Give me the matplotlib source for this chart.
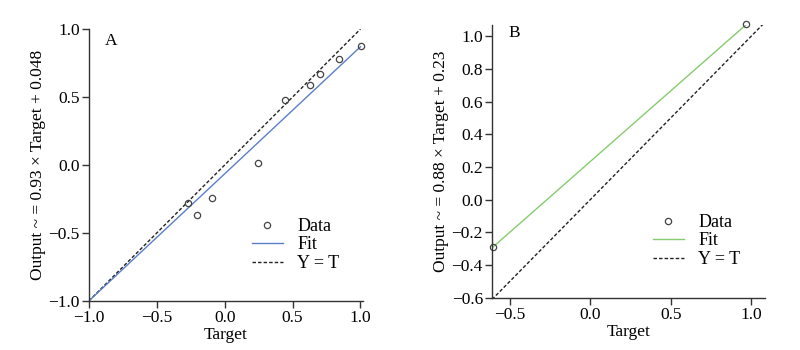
import matplotlib
matplotlib.use("Agg")
import matplotlib.pyplot as plt
from matplotlib.lines import Line2D

plt.rcParams['font.family'] = ['Liberation Serif', 'DejaVu Serif']
plt.rcParams['font.size'] = 12.5

# Panel A data
a_target = [-0.267, -0.207, -0.092, 0.248, 0.447, 0.625, 0.705, 0.843, 1.004]
a_output = [-0.276, -0.367, -0.242, 0.015, 0.477, 0.592, 0.670, 0.780, 0.875]
a_fit_x = [-1.0, 1.0]
a_fit_y = [-1.0, 0.87]
a_ylabel = "Output ~ = 0.93 × Target + 0.048"
a_ticks = [-1.0, -0.5, 0.0, 0.5, 1.0]

# Panel B data
b_target = [-0.605, 0.971]
b_output = [-0.29, 1.073]
b_fit_x = [-0.605, 0.971]
b_fit_y = [-0.29, 1.073]
b_ylabel = "Output ~ = 0.88 × Target + 0.23"
b_xticks = [-0.5, 0.0, 0.5, 1.0]
b_yticks = [-0.6, -0.4, -0.2, 0.0, 0.2, 0.4, 0.6, 0.8, 1.0]

fig = plt.figure(figsize=(8, 3.5), dpi=100)
axA = fig.add_axes([0.111, 0.14, 0.343, 0.777])
axB = fig.add_axes([0.615, 0.149, 0.341, 0.78])

spine_col = '#333333'
for ax in (axA, axB):
    ax.spines['top'].set_visible(False)
    ax.spines['right'].set_visible(False)
    for s in ('left', 'bottom'):
        ax.spines[s].set_color(spine_col)
        ax.spines[s].set_linewidth(1.0)
    ax.tick_params(direction='out', length=5, width=1.0, color=spine_col, labelsize=12.5, pad=1.5)

def fmt(v):
    return ("−" if v < 0 else "") + f"{abs(v):.1f}"

def legend_at(ax, handles, x_px, y_px):
    ax.legend(handles, ["Data", "Fit", "Y = T"], loc='upper left',
              bbox_to_anchor=(x_px / 800, 1 - y_px / 350), bbox_transform=fig.transFigure,
              frameon=False, fontsize=13, handlelength=1.7, labelspacing=0.08,
              handletextpad=0.8, borderpad=0, borderaxespad=0)

dash = (0, (2.5, 1.5))

# Panel A
axA.plot([-1, 1], [-1, 1], ls=dash, color='#222222', lw=1.0)
axA.plot(a_fit_x, a_fit_y, color='#5b7fc7', lw=1.0)
axA.plot(a_target, a_output, 'o', mfc='none', mec='#444444', ms=4.5, mew=0.9, clip_on=False)
axA.set_xlim(-1.0, 1.02)
axA.set_ylim(-1.0, 1.0)
axA.set_xticks(a_ticks)
axA.set_xticklabels([fmt(v) for v in a_ticks])
axA.set_yticks(a_ticks)
axA.set_yticklabels([fmt(v) for v in a_ticks])
axA.set_xlabel("Target", labelpad=1)
axA.set_ylabel(a_ylabel, labelpad=2)
axA.text(0.06, 0.985, "A", transform=axA.transAxes, va='top', ha='left', fontsize=12.5)
hA = [Line2D([], [], ls='none', marker='o', mfc='none', mec='#444444', ms=4.5, mew=0.9),
      Line2D([], [], color='#5b7fc7', lw=1.0),
      Line2D([], [], color='#222222', lw=1.0, ls=dash)]
legend_at(axA, hA, 252, 218)

# Panel B
axB.plot([-0.61, 1.1], [-0.61, 1.1], ls=dash, color='#222222', lw=1.0)
axB.plot(b_fit_x, b_fit_y, color='#86cc6e', lw=1.0)
axB.plot(b_target, b_output, 'o', mfc='none', mec='#444444', ms=4.5, mew=0.9, clip_on=False)
axB.set_xlim(-0.61, 1.085)
axB.set_ylim(-0.6, 1.07)
axB.set_xticks(b_xticks)
axB.set_xticklabels([fmt(v) for v in b_xticks])
axB.set_yticks(b_yticks)
axB.set_yticklabels([fmt(v) for v in b_yticks])
axB.set_xlabel("Target", labelpad=1)
axB.set_ylabel(b_ylabel, labelpad=2)
axB.text(0.06, 1.0, "B", transform=axB.transAxes, va='top', ha='left', fontsize=12.5)
hB = [Line2D([], [], ls='none', marker='o', mfc='none', mec='#444444', ms=4.5, mew=0.9),
      Line2D([], [], color='#86cc6e', lw=1.0),
      Line2D([], [], color='#222222', lw=1.0, ls=dash)]
legend_at(axB, hB, 653, 214)

fig.savefig("out.png", dpi=100)
